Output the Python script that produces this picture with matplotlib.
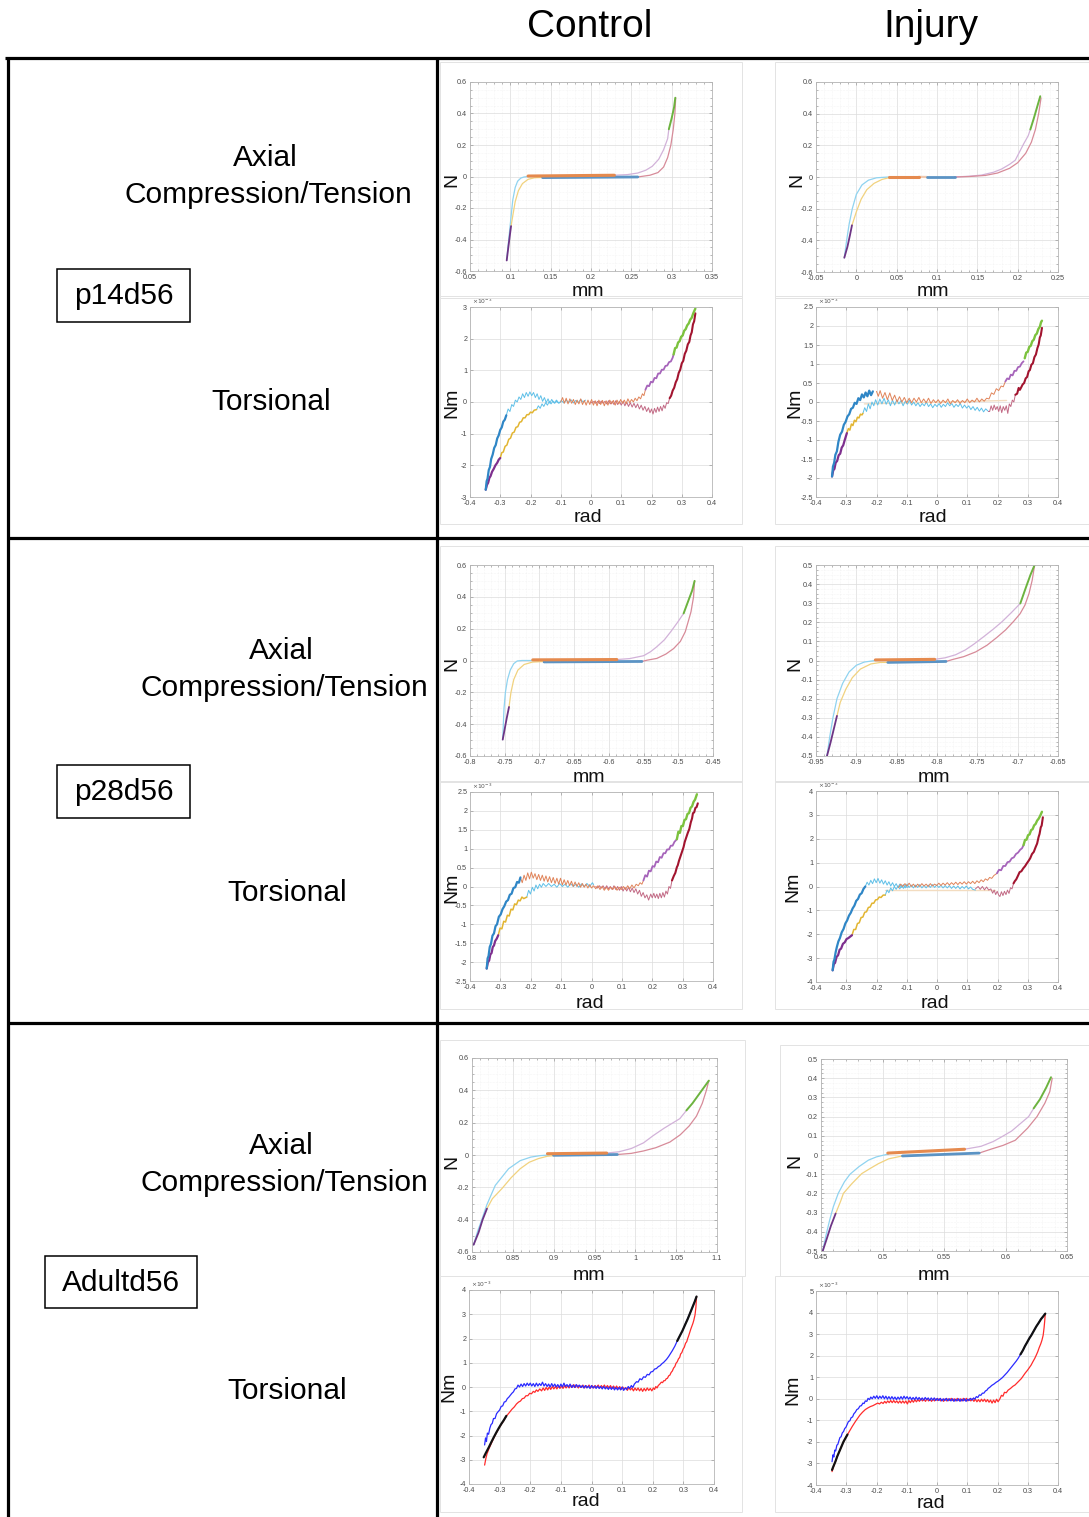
import numpy as np
import matplotlib
matplotlib.use("Agg")
import matplotlib.pyplot as plt
from matplotlib.lines import Line2D
from matplotlib.patches import Rectangle
from matplotlib.ticker import MultipleLocator, AutoMinorLocator, FuncFormatter

plt.rcParams['font.family'] = ['Liberation Sans', 'DejaVu Sans']

W, H = 1089, 1517

# ---------------- data (x, y) ----------------
# p14d56 control, axial (mm, N)
c14a_violet = [(0.0955, -0.533), (0.0975, -0.45), (0.0995, -0.37), (0.1009, -0.315)]
c14a_sky = [(0.0955, -0.533), (0.097, -0.45), (0.099, -0.35), (0.101, -0.25), (0.103, -0.15),
            (0.106, -0.07), (0.109, -0.03), (0.113, -0.01), (0.117, -0.003), (0.122, 0.0)]
c14a_yellow = [(0.1009, -0.315), (0.103, -0.25), (0.106, -0.16), (0.110, -0.09), (0.115, -0.045),
               (0.122, -0.018), (0.130, -0.008), (0.140, -0.006)]
c14a_orange = [(0.122, 0.003), (0.229, 0.008)]
c14a_blue = [(0.140, -0.007), (0.258, -0.003)]
c14a_lilac = [(0.229, 0.008), (0.245, 0.012), (0.258, 0.022), (0.268, 0.04), (0.276, 0.065),
              (0.284, 0.11), (0.290, 0.17), (0.295, 0.24), (0.2965, 0.3)]
c14a_green = [(0.2965, 0.3), (0.300, 0.37), (0.303, 0.44), (0.3045, 0.5)]
c14a_rose = [(0.305, 0.5), (0.304, 0.4), (0.302, 0.3), (0.299, 0.2), (0.295, 0.12), (0.290, 0.06),
             (0.283, 0.025), (0.273, 0.008), (0.262, 0.0), (0.258, -0.003)]

# p14d56 injury, axial
i14a_violet = [(-0.0149, -0.51), (-0.011, -0.44), (-0.008, -0.37), (-0.0054, -0.305)]
i14a_sky = [(-0.0149, -0.51), (-0.012, -0.4), (-0.009, -0.3), (-0.005, -0.2), (0.0, -0.11),
            (0.007, -0.05), (0.015, -0.02), (0.025, -0.005), (0.04, 0.0)]
i14a_yellow = [(-0.0054, -0.305), (0.0, -0.22), (0.006, -0.14), (0.013, -0.08), (0.022, -0.04),
               (0.032, -0.015), (0.042, -0.003)]
i14a_orange = [(0.041, 0.002), (0.0773, 0.002)]
i14a_tan = [(0.0773, 0.001), (0.0876, 0.0)]
i14a_blue = [(0.0876, 0.0), (0.122, 0.0)]
i14a_lilac = [(0.122, 0.0), (0.14, 0.005), (0.155, 0.012), (0.17, 0.03), (0.18, 0.05), (0.19, 0.08),
              (0.197, 0.106), (0.2075, 0.21), (0.213, 0.26), (0.2157, 0.3)]
i14a_green = [(0.2157, 0.3), (0.220, 0.37), (0.224, 0.44), (0.228, 0.51)]
i14a_rose = [(0.229, 0.5), (0.226, 0.4), (0.222, 0.3), (0.217, 0.22), (0.210, 0.15), (0.200, 0.09),
             (0.190, 0.055), (0.175, 0.025), (0.160, 0.01), (0.140, 0.003), (0.122, 0.0)]

# p28d56 control, axial
c28a_violet = [(-0.7529, -0.497), (-0.750, -0.43), (-0.747, -0.36), (-0.7438, -0.292)]
c28a_sky = [(-0.7529, -0.497), (-0.752, -0.4), (-0.751, -0.3), (-0.749, -0.2), (-0.746, -0.12),
            (-0.742, -0.06), (-0.737, -0.02), (-0.732, -0.003), (-0.725, 0.0), (-0.709, 0.0)]
c28a_yellow = [(-0.7438, -0.292), (-0.741, -0.2), (-0.737, -0.12), (-0.731, -0.06), (-0.722, -0.025),
               (-0.710, -0.01), (-0.693, -0.006)]
c28a_orange = [(-0.7096, 0.004), (-0.5885, 0.006)]
c28a_blue = [(-0.6933, -0.009), (-0.5524, -0.006)]
c28a_lilac = [(-0.5885, 0.006), (-0.57, 0.012), (-0.55, 0.03), (-0.54, 0.055), (-0.531, 0.086),
              (-0.52, 0.13), (-0.511, 0.18), (-0.501, 0.24), (-0.4923, 0.296)]
c28a_green = [(-0.4923, 0.296), (-0.486, 0.37), (-0.480, 0.44), (-0.4765, 0.5)]
c28a_rose = [(-0.4765, 0.5), (-0.478, 0.4), (-0.4817, 0.306), (-0.486, 0.24), (-0.490, 0.18),
             (-0.497, 0.12), (-0.5067, 0.075), (-0.518, 0.04), (-0.531, 0.013), (-0.545, 0.002),
             (-0.5524, -0.006)]

# p28d56 injury, axial
i28a_violet = [(-0.9364, -0.5), (-0.932, -0.43), (-0.928, -0.36), (-0.924, -0.29)]
i28a_sky = [(-0.9364, -0.5), (-0.933, -0.4), (-0.929, -0.3), (-0.924, -0.2), (-0.917, -0.12),
            (-0.909, -0.06), (-0.900, -0.025), (-0.890, -0.008), (-0.8764, 0.0)]
i28a_yellow = [(-0.924, -0.29), (-0.920, -0.22), (-0.913, -0.15), (-0.905, -0.09), (-0.895, -0.045),
               (-0.882, -0.018), (-0.870, -0.01), (-0.861, -0.01)]
i28a_orange = [(-0.8764, 0.003), (-0.8029, 0.006)]
i28a_blue = [(-0.861, -0.01), (-0.7888, -0.005)]
i28a_lilac = [(-0.8029, 0.006), (-0.79, 0.014), (-0.777, 0.03), (-0.765, 0.055), (-0.7545, 0.085),
              (-0.742, 0.125), (-0.730, 0.165), (-0.7194, 0.203), (-0.708, 0.25), (-0.6967, 0.299)]
i28a_green = [(-0.6967, 0.299), (-0.690, 0.38), (-0.684, 0.45), (-0.679, 0.5)]
i28a_rose = [(-0.679, 0.5), (-0.682, 0.42), (-0.686, 0.35), (-0.691, 0.29), (-0.697, 0.245),
             (-0.705, 0.205), (-0.715, 0.16), (-0.726, 0.12), (-0.738, 0.08), (-0.752, 0.045),
             (-0.767, 0.02), (-0.780, 0.006), (-0.7888, -0.005)]

# Adultd56 control, axial
cAa_violet = [(0.802, -0.555), (0.808, -0.48), (0.813, -0.40), (0.8183, -0.332)]
cAa_sky = [(0.802, -0.555), (0.807, -0.47), (0.812, -0.4), (0.818, -0.31), (0.8285, -0.188),
           (0.8448, -0.085), (0.859, -0.035), (0.872, -0.013), (0.883, -0.004), (0.895, 0.0)]
cAa_yellow = [(0.8183, -0.332), (0.825, -0.27), (0.8366, -0.208), (0.848, -0.14), (0.859, -0.085),
              (0.870, -0.045), (0.8814, -0.022), (0.892, -0.008), (0.8998, -0.004)]
cAa_orange = [(0.8924, 0.008), (0.9649, 0.012)]
cAa_blue = [(0.8998, -0.002), (0.978, 0.003)]
cAa_lilac = [(0.9649, 0.012), (0.98, 0.02), (0.995, 0.04), (1.01, 0.075), (1.0219, 0.12),
             (1.035, 0.165), (1.0545, 0.225), (1.0626, 0.276)]
cAa_green = [(1.0626, 0.276), (1.070, 0.32), (1.080, 0.39), (1.090, 0.46)]
cAa_rose = [(1.090, 0.46), (1.087, 0.4), (1.082, 0.32), (1.0748, 0.24), (1.066, 0.18), (1.055, 0.125),
            (1.0423, 0.08), (1.025, 0.045), (1.01, 0.025), (0.995, 0.01), (0.978, 0.003)]

# Adultd56 injury, axial
iAa_violet = [(0.4514, -0.5), (0.455, -0.43), (0.458, -0.37), (0.4619, -0.305)]
iAa_sky = [(0.4514, -0.5), (0.454, -0.42), (0.457, -0.34), (0.460, -0.27), (0.464, -0.2),
           (0.469, -0.14), (0.4736, -0.1), (0.481, -0.06), (0.4885, -0.027), (0.495, -0.01),
           (0.5, -0.002), (0.505, 0.005)]
iAa_yellow = [(0.4619, -0.305), (0.466, -0.24), (0.4682, -0.2), (0.475, -0.15), (0.4831, -0.097),
              (0.490, -0.07), (0.4967, -0.045), (0.505, -0.02), (0.516, -0.005)]
iAa_orange = [(0.5043, 0.01), (0.5667, 0.03)]
iAa_blue = [(0.5162, -0.005), (0.5786, 0.01)]
iAa_lilac = [(0.5667, 0.03), (0.58, 0.045), (0.59, 0.07), (0.597, 0.095), (0.605, 0.125),
             (0.6188, 0.2), (0.6229, 0.243)]
iAa_green = [(0.6229, 0.243), (0.628, 0.29), (0.633, 0.35), (0.637, 0.405)]
iAa_rose = [(0.638, 0.4), (0.636, 0.33), (0.632, 0.27), (0.6256, 0.2), (0.618, 0.14), (0.608, 0.077),
            (0.598, 0.05), (0.588, 0.03), (0.5786, 0.01)]

# p14d56 control, torsional (rad, Nm x 1e-3)
c14t_violet = [(-0.348, -2.77), (-0.344, -2.62), (-0.340, -2.55), (-0.336, -2.40), (-0.332, -2.34),
               (-0.327, -2.20), (-0.322, -2.12), (-0.316, -2.00), (-0.310, -1.92), (-0.305, -1.82),
               (-0.300, -1.77)]
c14t_yellow = [(-0.300, -1.77), (-0.295, -1.60), (-0.290, -1.58), (-0.284, -1.40), (-0.278, -1.36),
               (-0.272, -1.18), (-0.266, -1.14), (-0.260, -0.98), (-0.254, -0.95), (-0.248, -0.80),
               (-0.242, -0.78), (-0.236, -0.64), (-0.230, -0.62), (-0.224, -0.50), (-0.218, -0.50),
               (-0.212, -0.40), (-0.206, -0.40), (-0.200, -0.32), (-0.194, -0.34), (-0.188, -0.26),
               (-0.180, -0.24)]
c14t_sky2 = [(-0.180, -0.24), (-0.174, -0.12), (-0.168, -0.20), (-0.162, -0.06), (-0.156, -0.14),
             (-0.150, -0.02), (-0.144, -0.10), (-0.138, 0.02), (-0.132, -0.06), (-0.126, 0.03),
             (-0.120, -0.04), (-0.114, 0.02), (-0.108, -0.03), (-0.100, 0.0)]
c14t_blue = [(-0.348, -2.77), (-0.345, -2.50), (-0.342, -2.42), (-0.338, -2.15), (-0.334, -2.05),
             (-0.330, -1.80), (-0.325, -1.66), (-0.320, -1.45), (-0.315, -1.36), (-0.310, -1.15),
             (-0.305, -1.05), (-0.300, -0.88), (-0.295, -0.80), (-0.290, -0.62), (-0.285, -0.56),
             (-0.280, -0.42)]
c14t_sky1 = [(-0.280, -0.42), (-0.274, -0.22), (-0.268, -0.30), (-0.262, -0.08), (-0.256, -0.14),
             (-0.250, 0.06), (-0.244, 0.0), (-0.238, 0.16), (-0.232, 0.08), (-0.226, 0.26),
             (-0.220, 0.14), (-0.214, 0.30), (-0.208, 0.18), (-0.202, 0.32), (-0.196, 0.20),
             (-0.190, 0.30), (-0.184, 0.14), (-0.178, 0.26), (-0.172, 0.08), (-0.166, 0.20),
             (-0.160, 0.02), (-0.154, 0.14), (-0.148, -0.02), (-0.142, 0.10), (-0.136, -0.04),
             (-0.130, 0.08), (-0.122, -0.03), (-0.114, 0.06), (-0.106, -0.04), (-0.098, 0.05),
             (-0.090, -0.03), (-0.082, 0.06), (-0.074, -0.02), (-0.066, 0.07), (-0.058, -0.03),
             (-0.050, 0.05), (-0.042, -0.02), (-0.034, 0.08), (-0.026, 0.0), (-0.018, 0.06)]
c14t_orange = [(-0.100, 0.0), (-0.094, 0.14), (-0.088, -0.04), (-0.082, 0.12), (-0.076, -0.06),
               (-0.070, 0.10), (-0.064, -0.04), (-0.058, 0.08), (-0.052, -0.08), (-0.046, 0.06),
               (-0.040, -0.06), (-0.034, 0.10), (-0.028, -0.08), (-0.022, 0.05), (-0.016, -0.10),
               (-0.010, 0.06), (-0.004, -0.08), (0.002, 0.08), (0.008, -0.10), (0.014, 0.04),
               (0.020, -0.12), (0.026, 0.06), (0.032, -0.08), (0.038, 0.05), (0.044, -0.12),
               (0.050, 0.04), (0.056, -0.10), (0.062, 0.06), (0.068, -0.06), (0.074, 0.05),
               (0.080, -0.10), (0.086, 0.06), (0.092, -0.06), (0.098, 0.08), (0.104, -0.04),
               (0.110, 0.06), (0.116, -0.06), (0.122, 0.10), (0.128, -0.02), (0.134, 0.08),
               (0.140, 0.0), (0.146, 0.12), (0.152, 0.04), (0.158, 0.16), (0.164, 0.10),
               (0.170, 0.26), (0.175, 0.20), (0.180, 0.39)]
c14t_lilac = [(0.180, 0.39), (0.186, 0.52), (0.192, 0.50), (0.198, 0.64), (0.204, 0.62), (0.210, 0.76),
              (0.216, 0.75), (0.222, 0.90), (0.228, 0.90), (0.234, 1.02), (0.240, 1.02), (0.246, 1.14),
              (0.252, 1.15), (0.258, 1.26), (0.264, 1.28), (0.270, 1.40), (0.273, 1.50)]
c14t_green = [(0.273, 1.50), (0.278, 1.70), (0.283, 1.72), (0.288, 1.88), (0.293, 1.92), (0.298, 2.06),
              (0.303, 2.10), (0.308, 2.25), (0.313, 2.30), (0.318, 2.42), (0.323, 2.48), (0.328, 2.60),
              (0.333, 2.66), (0.338, 2.80), (0.345, 2.95)]
c14t_red = [(0.345, 2.80), (0.341, 2.55), (0.337, 2.45), (0.333, 2.20), (0.329, 2.10), (0.325, 1.90),
            (0.320, 1.82), (0.315, 1.62), (0.310, 1.52), (0.305, 1.30), (0.300, 1.22), (0.295, 1.02),
            (0.290, 0.92), (0.285, 0.72), (0.280, 0.62), (0.275, 0.45), (0.270, 0.36), (0.265, 0.20),
            (0.260, 0.12)]
c14t_rose = [(0.260, 0.12), (0.255, -0.05), (0.250, -0.02), (0.245, -0.20), (0.240, -0.10),
             (0.235, -0.28), (0.230, -0.14), (0.225, -0.30), (0.220, -0.16), (0.215, -0.33),
             (0.210, -0.20), (0.205, -0.38), (0.200, -0.22), (0.195, -0.34), (0.190, -0.18),
             (0.184, -0.30), (0.178, -0.14), (0.172, -0.26), (0.166, -0.10), (0.160, -0.22),
             (0.154, -0.06), (0.148, -0.18), (0.142, -0.04), (0.136, -0.16), (0.130, -0.02),
             (0.124, -0.14), (0.118, 0.0), (0.112, -0.12), (0.106, 0.02), (0.100, -0.10),
             (0.094, 0.02), (0.088, -0.08), (0.082, 0.04), (0.076, -0.08), (0.070, 0.02),
             (0.064, -0.06), (0.058, 0.04), (0.052, -0.06), (0.046, 0.02), (0.040, -0.04),
             (0.034, 0.03), (0.028, -0.05), (0.022, 0.02), (0.016, -0.04), (0.010, 0.02),
             (0.004, -0.03), (-0.002, 0.0)]

# p14d56 injury, torsional
i14t_violet = [(-0.347, -1.96), (-0.343, -1.80), (-0.339, -1.76), (-0.335, -1.60), (-0.330, -1.55),
               (-0.325, -1.40), (-0.320, -1.36), (-0.315, -1.20), (-0.310, -1.14), (-0.305, -1.00),
               (-0.298, -0.82)]
i14t_yellow = [(-0.298, -0.82), (-0.293, -0.70), (-0.288, -0.74), (-0.283, -0.58), (-0.278, -0.62),
               (-0.273, -0.48), (-0.268, -0.52), (-0.263, -0.40), (-0.258, -0.42), (-0.253, -0.32),
               (-0.248, -0.34), (-0.245, -0.30)]
i14t_sky = [(-0.245, -0.30), (-0.239, -0.15), (-0.233, -0.25), (-0.227, -0.05), (-0.221, -0.18),
            (-0.215, 0.0), (-0.209, -0.10), (-0.203, 0.06), (-0.196, -0.08), (-0.189, 0.08),
            (-0.182, -0.05), (-0.175, 0.10), (-0.168, -0.06), (-0.161, 0.06), (-0.154, -0.10),
            (-0.147, 0.05), (-0.140, -0.08), (-0.133, 0.06), (-0.126, -0.05), (-0.119, 0.04),
            (-0.112, -0.10), (-0.105, 0.02), (-0.098, -0.06), (-0.091, 0.05), (-0.084, -0.08),
            (-0.077, 0.0), (-0.070, -0.10), (-0.063, -0.02), (-0.056, -0.12), (-0.049, -0.04),
            (-0.042, -0.10), (-0.035, 0.0), (-0.028, -0.12), (-0.021, -0.05), (-0.014, -0.15),
            (-0.007, -0.06), (0.000, -0.12), (0.007, -0.04), (0.014, -0.14), (0.021, -0.06),
            (0.028, -0.12), (0.035, -0.02), (0.042, -0.10), (0.049, -0.04), (0.056, -0.14),
            (0.063, -0.06), (0.070, -0.12), (0.077, -0.04), (0.084, -0.16), (0.091, -0.08),
            (0.098, -0.16), (0.105, -0.10), (0.112, -0.20), (0.119, -0.12), (0.126, -0.22),
            (0.133, -0.14), (0.140, -0.24), (0.147, -0.16), (0.154, -0.26), (0.161, -0.18),
            (0.170, -0.25)]
i14t_tan = [(-0.240, -0.05), (0.230, 0.04)]
i14t_blue = [(-0.347, -1.96), (-0.344, -1.70), (-0.340, -1.60), (-0.336, -1.39), (-0.331, -1.30),
             (-0.326, -1.05), (-0.320, -0.86), (-0.314, -0.78), (-0.308, -0.60), (-0.302, -0.52),
             (-0.296, -0.38), (-0.290, -0.32), (-0.284, -0.18), (-0.278, -0.15), (-0.272, -0.02),
             (-0.266, -0.05), (-0.260, 0.10), (-0.254, 0.05), (-0.248, 0.20), (-0.242, 0.12),
             (-0.236, 0.25), (-0.230, 0.15), (-0.224, 0.30), (-0.218, 0.18), (-0.212, 0.28)]
i14t_orange = [(-0.200, 0.28), (-0.194, 0.15), (-0.188, 0.30), (-0.180, 0.10), (-0.172, 0.25),
               (-0.164, 0.06), (-0.156, 0.24), (-0.148, 0.04), (-0.140, 0.18), (-0.132, 0.0),
               (-0.124, 0.14), (-0.116, 0.0), (-0.108, 0.12), (-0.100, -0.02), (-0.092, 0.10),
               (-0.084, -0.02), (-0.076, 0.10), (-0.068, 0.0), (-0.060, 0.12), (-0.052, -0.02),
               (-0.044, 0.08), (-0.036, -0.02), (-0.028, 0.10), (-0.020, -0.04), (-0.012, 0.06),
               (-0.004, -0.02), (0.004, 0.06), (0.012, -0.04), (0.020, 0.05), (0.028, -0.02),
               (0.036, 0.08), (0.044, -0.05), (0.052, 0.04), (0.060, -0.02), (0.068, 0.06),
               (0.076, -0.04), (0.084, 0.04), (0.092, -0.02), (0.100, 0.08), (0.108, -0.02),
               (0.116, 0.05), (0.124, 0.0), (0.132, 0.10), (0.140, 0.0), (0.148, 0.08),
               (0.156, 0.02), (0.164, 0.10), (0.172, 0.08), (0.180, 0.24), (0.188, 0.20),
               (0.196, 0.35), (0.204, 0.30), (0.212, 0.42), (0.219, 0.40), (0.226, 0.54)]
i14t_lilac = [(0.226, 0.54), (0.232, 0.62), (0.238, 0.60), (0.244, 0.72), (0.250, 0.70), (0.256, 0.82),
              (0.262, 0.82), (0.268, 0.92), (0.274, 0.93), (0.280, 1.02), (0.286, 1.07)]
i14t_green = [(0.290, 1.15), (0.295, 1.30), (0.300, 1.32), (0.305, 1.45), (0.310, 1.48), (0.315, 1.60),
              (0.320, 1.64), (0.325, 1.76), (0.330, 1.80), (0.335, 1.92), (0.340, 1.98), (0.344, 2.10),
              (0.347, 2.14)]
i14t_red = [(0.347, 1.95), (0.343, 1.75), (0.340, 1.70), (0.336, 1.51), (0.332, 1.42), (0.327, 1.25),
            (0.322, 1.18), (0.317, 1.02), (0.312, 0.98), (0.307, 0.84), (0.303, 0.81), (0.298, 0.66),
            (0.293, 0.62), (0.288, 0.50), (0.283, 0.46), (0.278, 0.38), (0.274, 0.32), (0.270, 0.37),
            (0.265, 0.22), (0.259, 0.19)]
i14t_rose = [(0.259, 0.19), (0.254, 0.0), (0.249, 0.05), (0.244, -0.12), (0.239, -0.05), (0.234, -0.30),
             (0.229, -0.10), (0.224, -0.22), (0.219, -0.12), (0.214, -0.28), (0.209, -0.10),
             (0.204, -0.25), (0.199, -0.12), (0.194, -0.20), (0.189, -0.08), (0.184, -0.22),
             (0.179, -0.10), (0.174, -0.25), (0.170, -0.25)]

# p28d56 control, torsional
c28t_violet = [(-0.345, -2.17), (-0.341, -2.00), (-0.337, -1.96), (-0.333, -1.80), (-0.329, -1.76),
               (-0.325, -1.60), (-0.321, -1.56), (-0.317, -1.44), (-0.312, -1.38), (-0.307, -1.29)]
c28t_yellow = [(-0.307, -1.29), (-0.301, -1.10), (-0.295, -1.12), (-0.289, -0.92), (-0.283, -0.94),
               (-0.277, -0.76), (-0.271, -0.78), (-0.265, -0.60), (-0.259, -0.62), (-0.253, -0.46),
               (-0.247, -0.48), (-0.241, -0.36), (-0.235, -0.38), (-0.229, -0.28), (-0.223, -0.32),
               (-0.213, -0.28)]
c28t_sky2 = [(-0.213, -0.28), (-0.207, -0.10), (-0.201, -0.20), (-0.195, -0.02), (-0.189, -0.12),
             (-0.183, 0.04), (-0.177, -0.06), (-0.171, 0.06), (-0.165, -0.02), (-0.159, 0.08),
             (-0.150, 0.0), (-0.141, 0.08), (-0.132, 0.0), (-0.123, 0.06), (-0.114, -0.02),
             (-0.105, 0.08), (-0.096, 0.0), (-0.087, 0.06), (-0.078, -0.02), (-0.069, 0.08),
             (-0.060, 0.0), (-0.051, 0.06), (-0.042, -0.02), (-0.033, 0.07), (-0.024, 0.0),
             (-0.015, 0.08), (-0.006, 0.0), (0.003, 0.10), (0.007, 0.05)]
c28t_blue = [(-0.345, -2.17), (-0.342, -1.90), (-0.339, -1.84), (-0.335, -1.60), (-0.331, -1.52),
             (-0.326, -1.30), (-0.321, -1.24), (-0.316, -1.05), (-0.311, -1.00), (-0.305, -0.80),
             (-0.299, -0.74), (-0.293, -0.60), (-0.287, -0.52), (-0.281, -0.40), (-0.275, -0.36),
             (-0.269, -0.22), (-0.263, -0.19), (-0.257, -0.04), (-0.251, -0.02), (-0.245, 0.12),
             (-0.239, 0.10), (-0.234, 0.24)]
c28t_orange = [(-0.234, 0.24), (-0.228, 0.10), (-0.222, 0.30), (-0.216, 0.16), (-0.210, 0.36),
               (-0.204, 0.20), (-0.198, 0.38), (-0.192, 0.22), (-0.186, 0.34), (-0.180, 0.18),
               (-0.174, 0.32), (-0.168, 0.16), (-0.162, 0.30), (-0.156, 0.14), (-0.150, 0.28),
               (-0.144, 0.12), (-0.138, 0.26), (-0.132, 0.10), (-0.126, 0.24), (-0.120, 0.08),
               (-0.114, 0.22), (-0.108, 0.06), (-0.102, 0.22), (-0.096, 0.04), (-0.090, 0.18),
               (-0.084, 0.04), (-0.078, 0.16), (-0.072, 0.02), (-0.066, 0.14), (-0.060, 0.0),
               (-0.054, 0.12), (-0.048, 0.0), (-0.042, 0.10), (-0.036, -0.02), (-0.030, 0.08),
               (-0.024, -0.02), (-0.018, 0.06), (-0.012, -0.04), (-0.006, 0.05), (0.000, -0.04),
               (0.007, 0.02), (0.014, -0.06), (0.021, 0.02), (0.028, -0.08), (0.035, 0.0),
               (0.042, -0.10), (0.049, -0.02), (0.056, -0.10), (0.063, -0.02), (0.070, -0.08),
               (0.077, 0.0), (0.084, -0.10), (0.091, -0.02), (0.098, -0.08), (0.105, 0.0),
               (0.112, -0.08), (0.119, 0.02), (0.126, -0.06), (0.133, 0.04), (0.140, -0.04),
               (0.147, 0.06), (0.154, 0.02), (0.160, 0.10), (0.166, 0.06), (0.171, 0.16)]
c28t_lilac = [(0.171, 0.16), (0.177, 0.30), (0.183, 0.26), (0.189, 0.42), (0.195, 0.40), (0.201, 0.54),
              (0.207, 0.52), (0.213, 0.66), (0.219, 0.64), (0.225, 0.78), (0.231, 0.76), (0.237, 0.88),
              (0.243, 0.88), (0.249, 0.98), (0.255, 0.98), (0.261, 1.08), (0.267, 1.08), (0.273, 1.18),
              (0.281, 1.25)]
c28t_green = [(0.281, 1.25), (0.286, 1.45), (0.291, 1.42), (0.296, 1.60), (0.301, 1.60), (0.306, 1.76),
              (0.311, 1.78), (0.316, 1.92), (0.321, 1.94), (0.326, 2.08), (0.331, 2.12), (0.336, 2.24),
              (0.341, 2.30), (0.347, 2.44)]
c28t_red = [(0.350, 2.20), (0.346, 2.10), (0.342, 2.08), (0.338, 1.96), (0.334, 1.94), (0.331, 1.80),
            (0.327, 1.70), (0.322, 1.52), (0.317, 1.42), (0.312, 1.30), (0.307, 1.18), (0.303, 1.04),
            (0.298, 0.92), (0.293, 0.80), (0.288, 0.68), (0.284, 0.56), (0.281, 0.51), (0.276, 0.36),
            (0.271, 0.28), (0.265, 0.16)]
c28t_rose = [(0.265, 0.16), (0.260, -0.05), (0.255, 0.0), (0.250, -0.20), (0.245, -0.12),
             (0.240, -0.28), (0.235, -0.16), (0.230, -0.30), (0.225, -0.18), (0.220, -0.32),
             (0.215, -0.20), (0.210, -0.30), (0.205, -0.18), (0.200, -0.30), (0.195, -0.20),
             (0.188, -0.36), (0.182, -0.22), (0.176, -0.30), (0.170, -0.16), (0.164, -0.26),
             (0.158, -0.10), (0.152, -0.20), (0.146, -0.06), (0.140, -0.16), (0.134, -0.04),
             (0.128, -0.14), (0.122, -0.02), (0.116, -0.12), (0.110, -0.02), (0.104, -0.12),
             (0.098, 0.0), (0.092, -0.10), (0.086, 0.0), (0.080, -0.08), (0.074, 0.02),
             (0.068, -0.08), (0.062, 0.0), (0.056, -0.06), (0.050, 0.02), (0.044, -0.06),
             (0.038, 0.02), (0.032, -0.04), (0.026, 0.02), (0.020, -0.04), (0.014, 0.0)]

# p28d56 injury, torsional
i28t_violet = [(-0.345, -3.51), (-0.341, -3.25), (-0.337, -3.20), (-0.332, -2.95), (-0.327, -2.88),
               (-0.322, -2.65), (-0.317, -2.60), (-0.311, -2.40), (-0.305, -2.34), (-0.299, -2.20),
               (-0.293, -2.16), (-0.281, -2.04)]
i28t_yellow = [(-0.281, -2.04), (-0.275, -1.80), (-0.269, -1.80), (-0.263, -1.55), (-0.257, -1.52),
               (-0.251, -1.30), (-0.245, -1.28), (-0.239, -1.08), (-0.233, -1.06), (-0.227, -0.88),
               (-0.221, -0.86), (-0.215, -0.70), (-0.209, -0.70), (-0.203, -0.56), (-0.197, -0.55),
               (-0.191, -0.44), (-0.185, -0.46), (-0.178, -0.36), (-0.171, -0.36)]
i28t_sky2 = [(-0.171, -0.36), (-0.165, -0.15), (-0.159, -0.26), (-0.153, -0.06), (-0.147, -0.18),
             (-0.141, 0.0), (-0.135, -0.12), (-0.129, 0.02), (-0.123, -0.10), (-0.117, 0.04),
             (-0.111, -0.08), (-0.105, 0.05), (-0.099, -0.04), (-0.094, 0.0)]
i28t_blue = [(-0.345, -3.51), (-0.342, -3.15), (-0.339, -3.05), (-0.335, -2.75), (-0.331, -2.53),
             (-0.326, -2.30), (-0.321, -2.16), (-0.315, -1.92), (-0.309, -1.78), (-0.303, -1.55),
             (-0.297, -1.42), (-0.291, -1.22), (-0.285, -1.10), (-0.279, -0.92), (-0.273, -0.80),
             (-0.267, -0.60), (-0.261, -0.52), (-0.255, -0.34), (-0.249, -0.28), (-0.243, -0.10),
             (-0.237, 0.0)]
i28t_sky1 = [(-0.237, 0.0), (-0.231, 0.18), (-0.225, 0.06), (-0.219, 0.26), (-0.213, 0.12),
             (-0.207, 0.32), (-0.201, 0.16), (-0.195, 0.34), (-0.189, 0.14), (-0.183, 0.28),
             (-0.177, 0.10), (-0.171, 0.24), (-0.165, 0.06), (-0.159, 0.20), (-0.153, 0.02),
             (-0.147, 0.16), (-0.141, 0.0), (-0.135, 0.12), (-0.129, -0.04), (-0.123, 0.10),
             (-0.117, -0.04), (-0.111, 0.08), (-0.105, -0.06), (-0.099, 0.10), (-0.092, -0.04),
             (-0.085, 0.06), (-0.078, -0.06), (-0.071, 0.06), (-0.064, -0.04), (-0.057, 0.08),
             (-0.050, -0.06), (-0.043, 0.05), (-0.036, -0.06), (-0.029, 0.06), (-0.022, -0.04),
             (-0.015, 0.08), (-0.008, -0.04), (-0.001, 0.06), (0.006, -0.04), (0.013, 0.05),
             (0.020, -0.06), (0.027, 0.04), (0.034, -0.06), (0.041, 0.04), (0.048, -0.08),
             (0.055, 0.02), (0.062, -0.08), (0.069, 0.02), (0.076, -0.10), (0.083, 0.0),
             (0.090, -0.08), (0.097, 0.02), (0.104, -0.10), (0.111, -0.02), (0.118, -0.12),
             (0.127, -0.15)]
i28t_tan = [(-0.171, -0.15), (0.193, -0.15)]
i28t_orange = [(-0.127, -0.05), (-0.120, 0.10), (-0.113, 0.0), (-0.106, 0.12), (-0.099, 0.02),
               (-0.092, 0.14), (-0.085, 0.0), (-0.078, 0.10), (-0.071, -0.02), (-0.064, 0.10),
               (-0.057, 0.0), (-0.050, 0.12), (-0.043, 0.02), (-0.036, 0.10), (-0.029, 0.0),
               (-0.022, 0.12), (-0.015, 0.02), (-0.008, 0.10), (-0.001, 0.04), (0.006, 0.14),
               (0.013, 0.04), (0.020, 0.14), (0.027, 0.06), (0.034, 0.16), (0.041, 0.06),
               (0.048, 0.16), (0.055, 0.08), (0.062, 0.18), (0.069, 0.08), (0.076, 0.18),
               (0.083, 0.10), (0.090, 0.20), (0.097, 0.10), (0.104, 0.20), (0.111, 0.12),
               (0.118, 0.22), (0.125, 0.12), (0.132, 0.24), (0.139, 0.16), (0.146, 0.28),
               (0.153, 0.20), (0.160, 0.32), (0.167, 0.26), (0.174, 0.38), (0.181, 0.34),
               (0.188, 0.46), (0.198, 0.55)]
i28t_lilac = [(0.198, 0.55), (0.205, 0.70), (0.212, 0.68), (0.219, 0.86), (0.226, 0.86), (0.233, 1.02),
              (0.240, 1.04), (0.247, 1.18), (0.254, 1.22), (0.261, 1.36), (0.268, 1.42), (0.275, 1.54),
              (0.281, 1.60), (0.286, 1.73)]
i28t_green = [(0.286, 1.73), (0.291, 1.95), (0.296, 1.96), (0.301, 2.15), (0.306, 2.18), (0.311, 2.36),
              (0.316, 2.40), (0.321, 2.56), (0.326, 2.62), (0.331, 2.76), (0.336, 2.84), (0.341, 2.96),
              (0.347, 3.13)]
i28t_red = [(0.350, 2.90), (0.346, 2.55), (0.343, 2.48), (0.339, 2.20), (0.336, 2.08), (0.331, 1.80),
            (0.326, 1.65), (0.320, 1.45), (0.314, 1.36), (0.308, 1.18), (0.302, 1.06), (0.297, 0.97),
            (0.291, 0.85), (0.285, 0.76), (0.279, 0.64), (0.273, 0.60), (0.268, 0.46), (0.262, 0.30),
            (0.257, 0.22), (0.253, 0.13)]
i28t_rose = [(0.253, 0.13), (0.248, -0.10), (0.243, -0.05), (0.238, -0.29), (0.233, -0.15),
             (0.228, -0.34), (0.223, -0.20), (0.218, -0.38), (0.213, -0.22), (0.208, -0.42),
             (0.204, -0.36), (0.199, -0.20), (0.194, -0.34), (0.189, -0.15), (0.184, -0.28),
             (0.178, -0.10), (0.171, -0.15), (0.164, -0.02), (0.157, -0.14), (0.150, 0.0),
             (0.143, -0.12), (0.136, 0.0), (0.127, -0.10)]

# Adultd56 control, torsional
cAt_blue = [(-0.349, -2.39), (-0.346, -2.10), (-0.343, -2.25), (-0.340, -1.90), (-0.336, -1.95),
            (-0.332, -1.70), (-0.328, -1.55), (-0.324, -1.50), (-0.320, -1.30), (-0.315, -1.30),
            (-0.310, -1.10), (-0.305, -1.02), (-0.300, -0.95), (-0.295, -0.80), (-0.290, -0.78),
            (-0.285, -0.62), (-0.280, -0.60), (-0.275, -0.48), (-0.270, -0.42), (-0.265, -0.34),
            (-0.260, -0.26), (-0.255, -0.20), (-0.250, -0.08), (-0.245, -0.06), (-0.240, 0.08),
            (-0.235, 0.0), (-0.230, 0.12), (-0.225, 0.02), (-0.220, 0.14), (-0.215, 0.04),
            (-0.210, 0.16), (-0.205, 0.06), (-0.200, 0.16), (-0.195, 0.04), (-0.190, 0.14),
            (-0.185, 0.02), (-0.180, 0.16), (-0.175, 0.04), (-0.170, 0.14), (-0.165, 0.06),
            (-0.160, 0.20), (-0.155, 0.04), (-0.150, 0.14), (-0.145, 0.02), (-0.140, 0.12),
            (-0.135, 0.0), (-0.130, 0.14), (-0.125, 0.02), (-0.120, 0.12), (-0.115, 0.0),
            (-0.110, 0.10), (-0.105, -0.02), (-0.100, 0.12), (-0.095, 0.0), (-0.090, 0.16),
            (-0.085, 0.02), (-0.080, 0.10), (-0.075, 0.0), (-0.070, 0.12), (-0.065, -0.02),
            (-0.060, 0.08), (-0.055, -0.02), (-0.050, 0.10), (-0.045, 0.0), (-0.040, 0.08),
            (-0.035, -0.02), (-0.030, 0.06), (-0.025, -0.04), (-0.020, 0.06), (-0.015, -0.04),
            (-0.010, 0.04), (-0.005, -0.06), (0.000, 0.06), (0.005, -0.04), (0.010, 0.04),
            (0.015, -0.06), (0.020, 0.04), (0.025, -0.06), (0.030, 0.02), (0.035, -0.08),
            (0.040, 0.02), (0.045, -0.08), (0.050, 0.0), (0.055, -0.10), (0.060, 0.0),
            (0.065, -0.10), (0.070, 0.0), (0.075, -0.12), (0.080, -0.02), (0.085, -0.12),
            (0.090, -0.02), (0.095, -0.12), (0.100, 0.0), (0.105, -0.14), (0.110, -0.04),
            (0.115, -0.10), (0.120, 0.02), (0.125, -0.06), (0.130, 0.06), (0.135, -0.02),
            (0.140, 0.12), (0.147, 0.22), (0.152, 0.20), (0.158, 0.34), (0.164, 0.30),
            (0.170, 0.42), (0.176, 0.40), (0.182, 0.52), (0.188, 0.50), (0.194, 0.62),
            (0.200, 0.64), (0.206, 0.74), (0.212, 0.76), (0.218, 0.84), (0.224, 0.88),
            (0.230, 0.96), (0.236, 1.02), (0.245, 1.14), (0.252, 1.26), (0.258, 1.38),
            (0.264, 1.50), (0.272, 1.68), (0.280, 1.90), (0.288, 2.10), (0.297, 2.32),
            (0.305, 2.55), (0.314, 2.80), (0.322, 3.05), (0.330, 3.30), (0.337, 3.52),
            (0.343, 3.73)]
cAt_red = [(0.343, 3.73), (0.341, 3.30), (0.338, 2.97), (0.334, 2.75), (0.331, 2.62), (0.327, 2.48),
           (0.324, 2.38), (0.320, 2.22), (0.317, 2.10), (0.314, 2.00), (0.311, 1.87), (0.307, 1.80),
           (0.303, 1.64), (0.299, 1.56), (0.295, 1.42), (0.291, 1.36), (0.288, 1.22), (0.284, 1.16),
           (0.280, 1.04), (0.276, 0.98), (0.272, 0.84), (0.268, 0.78), (0.264, 0.66), (0.260, 0.60),
           (0.256, 0.49), (0.252, 0.46), (0.248, 0.36), (0.244, 0.34), (0.240, 0.26), (0.236, 0.26),
           (0.232, 0.18), (0.228, 0.20), (0.223, 0.12), (0.218, 0.06), (0.214, -0.04), (0.210, 0.02),
           (0.206, -0.10), (0.202, -0.04), (0.197, -0.16), (0.192, -0.06), (0.187, -0.14),
           (0.182, -0.04), (0.177, -0.16), (0.172, -0.06), (0.167, -0.18), (0.162, -0.06),
           (0.157, -0.16), (0.152, -0.04), (0.147, -0.14), (0.142, -0.04), (0.137, -0.16),
           (0.132, -0.04), (0.127, -0.12), (0.122, -0.02), (0.117, -0.14), (0.112, -0.02),
           (0.107, -0.10), (0.102, 0.0), (0.097, -0.10), (0.092, 0.02), (0.087, -0.08),
           (0.082, 0.04), (0.077, -0.06), (0.072, 0.04), (0.067, -0.06), (0.062, 0.06),
           (0.057, -0.04), (0.052, 0.06), (0.047, -0.04), (0.042, 0.08), (0.037, -0.02),
           (0.032, 0.06), (0.027, -0.04), (0.022, 0.08), (0.017, -0.02), (0.012, 0.06),
           (0.007, -0.04), (0.002, 0.06), (-0.003, -0.04), (-0.008, 0.08), (-0.013, -0.02),
           (-0.018, 0.06), (-0.023, -0.04), (-0.028, 0.08), (-0.033, -0.02), (-0.038, 0.06),
           (-0.043, -0.04), (-0.048, 0.08), (-0.053, -0.02), (-0.058, 0.10), (-0.063, -0.02),
           (-0.068, 0.08), (-0.073, -0.04), (-0.078, 0.06), (-0.083, -0.04), (-0.088, 0.06),
           (-0.093, -0.06), (-0.098, 0.04), (-0.103, -0.06), (-0.108, 0.04), (-0.113, -0.08),
           (-0.118, 0.02), (-0.123, -0.08), (-0.128, 0.02), (-0.133, -0.10), (-0.138, 0.0),
           (-0.143, -0.12), (-0.148, -0.02), (-0.153, -0.14), (-0.158, -0.04), (-0.163, -0.16),
           (-0.169, -0.08), (-0.175, -0.18), (-0.180, -0.12), (-0.185, -0.22), (-0.190, -0.18),
           (-0.196, -0.28), (-0.202, -0.26), (-0.208, -0.36), (-0.214, -0.36), (-0.220, -0.46),
           (-0.226, -0.48), (-0.232, -0.58), (-0.238, -0.62), (-0.245, -0.70), (-0.252, -0.82),
           (-0.260, -0.92), (-0.268, -1.05), (-0.278, -1.20), (-0.287, -1.40), (-0.295, -1.55),
           (-0.303, -1.72), (-0.311, -1.90), (-0.319, -2.10), (-0.327, -2.32), (-0.335, -2.55),
           (-0.341, -2.75), (-0.345, -2.95), (-0.349, -3.22)]
cAt_black_lo = [(-0.352, -2.90), (-0.345, -2.72), (-0.335, -2.48), (-0.327, -2.27), (-0.319, -2.07),
                (-0.311, -1.88), (-0.303, -1.70), (-0.295, -1.53), (-0.287, -1.38), (-0.278, -1.19)]
cAt_black_hi = [(0.280, 1.90), (0.288, 2.10), (0.297, 2.32), (0.305, 2.55), (0.314, 2.80), (0.322, 3.05),
                (0.330, 3.30), (0.337, 3.52), (0.343, 3.73)]

# Adultd56 injury, torsional
iAt_blue = [(-0.347, -2.92), (-0.344, -2.60), (-0.341, -2.70), (-0.338, -2.38), (-0.335, -2.42),
            (-0.331, -2.15), (-0.328, -2.12), (-0.325, -1.99), (-0.321, -1.80), (-0.317, -1.76),
            (-0.313, -1.58), (-0.309, -1.52), (-0.305, -1.38), (-0.301, -1.32), (-0.298, -1.22),
            (-0.293, -1.06), (-0.288, -1.02), (-0.284, -0.88), (-0.279, -0.84), (-0.275, -0.70),
            (-0.270, -0.62), (-0.265, -0.50), (-0.260, -0.46), (-0.255, -0.34), (-0.250, -0.32),
            (-0.245, -0.20), (-0.241, -0.22), (-0.237, -0.10), (-0.232, -0.12), (-0.228, 0.02),
            (-0.223, -0.04), (-0.219, 0.08), (-0.214, 0.0), (-0.209, 0.12), (-0.204, 0.02),
            (-0.199, 0.14), (-0.194, 0.0), (-0.189, 0.12), (-0.184, 0.02), (-0.179, 0.14),
            (-0.174, 0.0), (-0.169, 0.12), (-0.164, -0.02), (-0.159, 0.10), (-0.154, -0.02),
            (-0.149, 0.10), (-0.144, -0.02), (-0.139, 0.08), (-0.134, -0.04), (-0.129, 0.08),
            (-0.124, -0.02), (-0.119, 0.10), (-0.114, -0.02), (-0.109, 0.12), (-0.104, 0.0),
            (-0.099, 0.10), (-0.094, -0.02), (-0.089, 0.08), (-0.084, -0.04), (-0.079, 0.06),
            (-0.074, -0.04), (-0.069, 0.08), (-0.064, -0.04), (-0.059, 0.06), (-0.054, -0.06),
            (-0.049, 0.04), (-0.044, -0.06), (-0.039, 0.06), (-0.034, -0.04), (-0.029, 0.04),
            (-0.024, -0.08), (-0.019, 0.04), (-0.014, -0.06), (-0.009, 0.04), (-0.004, -0.08),
            (0.001, 0.02), (0.006, -0.08), (0.011, 0.02), (0.016, -0.10), (0.021, 0.0),
            (0.026, -0.08), (0.031, 0.02), (0.036, -0.10), (0.041, 0.0), (0.046, -0.10),
            (0.051, 0.0), (0.056, -0.12), (0.061, -0.02), (0.066, -0.10), (0.071, 0.0),
            (0.076, -0.12), (0.081, -0.02), (0.086, -0.10), (0.091, 0.0), (0.096, -0.12),
            (0.101, -0.02), (0.106, -0.08), (0.111, 0.02), (0.116, -0.06), (0.121, 0.04),
            (0.125, -0.02), (0.130, 0.10), (0.135, 0.06), (0.140, 0.18), (0.145, 0.16),
            (0.150, 0.26), (0.155, 0.26), (0.160, 0.36), (0.165, 0.40), (0.169, 0.48),
            (0.175, 0.54), (0.181, 0.62), (0.188, 0.68), (0.195, 0.76), (0.202, 0.82),
            (0.209, 0.90), (0.216, 0.98), (0.224, 1.10), (0.232, 1.22), (0.240, 1.36),
            (0.248, 1.50), (0.255, 1.62), (0.262, 1.75), (0.268, 1.87), (0.276, 2.06),
            (0.284, 2.25), (0.291, 2.45), (0.298, 2.62), (0.305, 2.80), (0.312, 2.95),
            (0.320, 3.15), (0.328, 3.35), (0.336, 3.52), (0.344, 3.70), (0.351, 3.82),
            (0.358, 3.95)]
iAt_red = [(0.358, 3.95), (0.356, 3.60), (0.354, 3.30), (0.351, 2.95), (0.347, 2.72), (0.343, 2.55),
           (0.338, 2.38), (0.333, 2.18), (0.328, 2.02), (0.323, 1.87), (0.317, 1.72), (0.311, 1.56),
           (0.305, 1.44), (0.299, 1.32), (0.292, 1.20), (0.285, 1.06), (0.279, 0.94), (0.272, 0.84),
           (0.265, 0.74), (0.258, 0.64), (0.251, 0.58), (0.243, 0.48), (0.235, 0.40), (0.229, 0.28),
           (0.223, 0.30), (0.218, 0.12), (0.213, 0.16), (0.208, 0.0), (0.202, -0.14), (0.197, -0.02),
           (0.192, -0.18), (0.187, -0.06), (0.182, -0.20), (0.177, -0.06), (0.172, -0.16),
           (0.167, -0.04), (0.162, -0.14), (0.157, -0.02), (0.152, -0.12), (0.147, -0.02),
           (0.142, -0.14), (0.137, -0.04), (0.132, -0.14), (0.127, -0.02), (0.122, -0.12),
           (0.117, 0.0), (0.112, -0.10), (0.107, 0.0), (0.102, -0.10), (0.097, 0.02),
           (0.092, -0.08), (0.087, 0.02), (0.082, -0.10), (0.077, 0.0), (0.072, -0.08),
           (0.067, 0.02), (0.062, -0.10), (0.057, 0.0), (0.052, -0.08), (0.047, 0.02),
           (0.042, -0.08), (0.037, 0.0), (0.032, -0.10), (0.027, 0.0), (0.022, -0.12),
           (0.017, -0.02), (0.012, -0.10), (0.007, 0.0), (0.002, -0.08), (-0.003, 0.0),
           (-0.008, -0.10), (-0.013, -0.02), (-0.018, -0.12), (-0.023, -0.02), (-0.028, -0.10),
           (-0.033, 0.0), (-0.038, -0.12), (-0.043, -0.02), (-0.048, -0.10), (-0.053, 0.0),
           (-0.058, -0.12), (-0.063, -0.04), (-0.068, -0.14), (-0.073, -0.04), (-0.078, -0.16),
           (-0.083, -0.06), (-0.088, -0.18), (-0.093, -0.08), (-0.098, -0.24), (-0.103, -0.10),
           (-0.108, -0.20), (-0.113, -0.10), (-0.118, -0.20), (-0.123, -0.10), (-0.128, -0.20),
           (-0.133, -0.10), (-0.138, -0.18), (-0.143, -0.08), (-0.148, -0.18), (-0.153, -0.08),
           (-0.158, -0.18), (-0.163, -0.10), (-0.168, -0.20), (-0.173, -0.12), (-0.178, -0.22),
           (-0.184, -0.16), (-0.190, -0.24), (-0.196, -0.20), (-0.204, -0.26), (-0.212, -0.32),
           (-0.220, -0.36), (-0.228, -0.42), (-0.237, -0.50), (-0.246, -0.62), (-0.255, -0.76),
           (-0.262, -0.90), (-0.270, -1.06), (-0.280, -1.28), (-0.290, -1.52), (-0.300, -1.76),
           (-0.309, -1.99), (-0.316, -2.22), (-0.323, -2.45), (-0.330, -2.68), (-0.336, -2.92),
           (-0.342, -3.15), (-0.347, -3.38)]
iAt_black_lo = [(-0.347, -3.30), (-0.342, -3.12), (-0.336, -2.92), (-0.330, -2.68), (-0.323, -2.45),
                (-0.316, -2.22), (-0.309, -1.99), (-0.300, -1.76), (-0.296, -1.66)]
iAt_black_hi = [(0.276, 2.06), (0.284, 2.25), (0.291, 2.45), (0.298, 2.62), (0.305, 2.80), (0.312, 2.95),
                (0.320, 3.15), (0.328, 3.35), (0.336, 3.52), (0.344, 3.70), (0.351, 3.82), (0.358, 3.95)]

# ---------------- line styles ----------------
STY = {
    'a_violet': dict(color='#6d3585', lw=1.3),
    'a_sky': dict(color='#8fd3f0', lw=0.9),
    'a_yellow': dict(color='#f1d27e', lw=0.9),
    'a_orange': dict(color='#e58a4e', lw=2.2),
    'a_tan': dict(color='#efc9b0', lw=1.6),
    'a_blue': dict(color='#5b93c4', lw=2.0),
    'a_lilac': dict(color='#d2b2d9', lw=0.9),
    'a_green': dict(color='#6cb33f', lw=1.4),
    'a_rose': dict(color='#d78b99', lw=0.9),
    't_violet': dict(color='#7E2F8E', lw=1.6),
    't_yellow': dict(color='#E2B531', lw=1.1),
    't_sky': dict(color='#5fc0e8', lw=0.7),
    't_blue': dict(color='#2f86c6', lw=1.6),
    't_orange': dict(color='#e0845a', lw=0.7),
    't_tan': dict(color='#f3dcc0', lw=1.0),
    't_lilac': dict(color='#a664ba', lw=1.3),
    't_green': dict(color='#7cc23e', lw=1.7),
    't_red': dict(color='#A2142F', lw=1.5),
    't_rose': dict(color='#c26a85', lw=0.7),
    'b_blue': dict(color='#2a2aff', lw=0.9),
    'b_red': dict(color='#ff2b2b', lw=0.9),
    'b_black': dict(color='#111111', lw=1.6),
}

# axes boxes in pixels: left, top, right, bottom ; label anchor points
PANELS = [
    dict(box=(470, 82, 712, 271), xlim=(0.05, 0.35), xs=0.05, ylim=(-0.6, 0.6), ys=0.2, kind='a',
         yl='N', ylp=(452, 180), xl='mm', xlp=(588, 292),
         segs=[(c14a_sky, 'a_sky'), (c14a_yellow, 'a_yellow'), (c14a_violet, 'a_violet'),
               (c14a_lilac, 'a_lilac'), (c14a_rose, 'a_rose'), (c14a_blue, 'a_blue'),
               (c14a_orange, 'a_orange'), (c14a_green, 'a_green')]),
    dict(box=(470, 307, 712, 497), xlim=(-0.4, 0.4), xs=0.1, ylim=(-3, 3), ys=1, kind='t',
         yl='Nm', ylp=(452, 403), xl='rad', xlp=(588, 517),
         segs=[(c14t_sky2, 't_sky'), (c14t_sky1, 't_sky'), (c14t_rose, 't_rose'), (c14t_orange, 't_orange'),
               (c14t_yellow, 't_yellow'), (c14t_violet, 't_violet'), (c14t_blue, 't_blue'),
               (c14t_lilac, 't_lilac'), (c14t_red, 't_red'), (c14t_green, 't_green')]),
    dict(box=(816, 82, 1058, 272), xlim=(-0.05, 0.25), xs=0.05, ylim=(-0.6, 0.6), ys=0.2, kind='a',
         yl='N', ylp=(797, 180), xl='mm', xlp=(933, 292),
         segs=[(i14a_sky, 'a_sky'), (i14a_yellow, 'a_yellow'), (i14a_violet, 'a_violet'),
               (i14a_lilac, 'a_lilac'), (i14a_rose, 'a_rose'), (i14a_tan, 'a_tan'), (i14a_blue, 'a_blue'),
               (i14a_orange, 'a_orange'), (i14a_green, 'a_green')]),
    dict(box=(816, 307, 1058, 497), xlim=(-0.4, 0.4), xs=0.1, ylim=(-2.5, 2.5), ys=0.5, kind='t',
         yl='Nm', ylp=(795, 403), xl='rad', xlp=(933, 517),
         segs=[(i14t_tan, 't_tan'), (i14t_sky, 't_sky'), (i14t_rose, 't_rose'), (i14t_orange, 't_orange'),
               (i14t_yellow, 't_yellow'), (i14t_violet, 't_violet'), (i14t_blue, 't_blue'),
               (i14t_lilac, 't_lilac'), (i14t_red, 't_red'), (i14t_green, 't_green')]),
    dict(box=(470, 565, 713, 756), xlim=(-0.8, -0.45), xs=0.05, ylim=(-0.6, 0.6), ys=0.2, kind='a',
         yl='N', ylp=(452, 664), xl='mm', xlp=(589, 777),
         segs=[(c28a_sky, 'a_sky'), (c28a_yellow, 'a_yellow'), (c28a_violet, 'a_violet'),
               (c28a_lilac, 'a_lilac'), (c28a_rose, 'a_rose'), (c28a_blue, 'a_blue'),
               (c28a_orange, 'a_orange'), (c28a_green, 'a_green')]),
    dict(box=(470, 792, 713, 981), xlim=(-0.4, 0.4), xs=0.1, ylim=(-2.5, 2.5), ys=0.5, kind='t',
         yl='Nm', ylp=(452, 888), xl='rad', xlp=(590, 1004),
         segs=[(c28t_sky2, 't_sky'), (c28t_rose, 't_rose'), (c28t_orange, 't_orange'),
               (c28t_yellow, 't_yellow'), (c28t_violet, 't_violet'), (c28t_blue, 't_blue'),
               (c28t_lilac, 't_lilac'), (c28t_red, 't_red'), (c28t_green, 't_green')]),
    dict(box=(816, 565, 1058, 756), xlim=(-0.95, -0.65), xs=0.05, ylim=(-0.5, 0.5), ys=0.1, kind='a',
         yl='N', ylp=(795, 664), xl='mm', xlp=(934, 777),
         segs=[(i28a_sky, 'a_sky'), (i28a_yellow, 'a_yellow'), (i28a_violet, 'a_violet'),
               (i28a_lilac, 'a_lilac'), (i28a_rose, 'a_rose'), (i28a_blue, 'a_blue'),
               (i28a_orange, 'a_orange'), (i28a_green, 'a_green')]),
    dict(box=(816, 791, 1058, 982), xlim=(-0.4, 0.4), xs=0.1, ylim=(-4, 4), ys=1, kind='t',
         yl='Nm', ylp=(793, 887), xl='rad', xlp=(935, 1004),
         segs=[(i28t_tan, 't_tan'), (i28t_sky2, 't_sky'), (i28t_sky1, 't_sky'), (i28t_rose, 't_rose'),
               (i28t_orange, 't_orange'), (i28t_yellow, 't_yellow'), (i28t_violet, 't_violet'),
               (i28t_blue, 't_blue'), (i28t_lilac, 't_lilac'), (i28t_red, 't_red'), (i28t_green, 't_green')]),
    dict(box=(472, 1058, 717, 1252), xlim=(0.8, 1.1), xs=0.05, ylim=(-0.6, 0.6), ys=0.2, kind='a',
         yl='N', ylp=(452, 1162), xl='mm', xlp=(589, 1276),
         segs=[(cAa_sky, 'a_sky'), (cAa_yellow, 'a_yellow'), (cAa_violet, 'a_violet'),
               (cAa_lilac, 'a_lilac'), (cAa_rose, 'a_rose'), (cAa_blue, 'a_blue'),
               (cAa_orange, 'a_orange'), (cAa_green, 'a_green')]),
    dict(box=(469, 1290, 714, 1484), xlim=(-0.4, 0.4), xs=0.1, ylim=(-4, 4), ys=1, kind='t',
         yl='Nm', ylp=(449, 1387), xl='rad', xlp=(586, 1502),
         segs=[(cAt_red, 'b_red'), (cAt_blue, 'b_blue'), (cAt_black_lo, 'b_black'), (cAt_black_hi, 'b_black')]),
    dict(box=(821, 1059, 1067, 1251), xlim=(0.45, 0.65), xs=0.05, ylim=(-0.5, 0.5), ys=0.1, kind='a',
         yl='N', ylp=(795, 1161), xl='mm', xlp=(934, 1276),
         segs=[(iAa_sky, 'a_sky'), (iAa_yellow, 'a_yellow'), (iAa_violet, 'a_violet'),
               (iAa_lilac, 'a_lilac'), (iAa_rose, 'a_rose'), (iAa_blue, 'a_blue'),
               (iAa_orange, 'a_orange'), (iAa_green, 'a_green')]),
    dict(box=(816, 1291, 1058, 1485), xlim=(-0.4, 0.4), xs=0.1, ylim=(-4, 5), ys=1, kind='t',
         yl='Nm', ylp=(793, 1390), xl='rad', xlp=(931, 1503),
         segs=[(iAt_red, 'b_red'), (iAt_blue, 'b_blue'), (iAt_black_lo, 'b_black'), (iAt_black_hi, 'b_black')]),
]

# faint frames of the pasted MATLAB figures
FRAMES = [(440, 62, 742, 298), (775, 62, 1089, 298), (440, 296, 742, 524), (775, 296, 1089, 524),
          (440, 546, 742, 782), (775, 546, 1089, 782), (440, 781, 742, 1009), (775, 781, 1089, 1009),
          (440, 1040, 745, 1276), (780, 1045, 1089, 1276), (440, 1276, 742, 1512), (775, 1276, 1089, 1512)]

ROWS = [
    dict(name='p14d56', box=(57, 269, 190, 322), ax_x=(265, 268), ax_y=(158, 195), tor=(271, 402)),
    dict(name='p28d56', box=(57, 765, 190, 818), ax_x=(281, 284), ax_y=(651, 688), tor=(287, 893)),
    dict(name='Adultd56', box=(45, 1256, 197, 1308), ax_x=(281, 284), ax_y=(1146, 1183), tor=(287, 1391)),
]


def fx(x):
    return x / W


def fy(y):
    return 1 - y / H


def tick_fmt(v, pos):
    s = ('%.4f' % v).rstrip('0').rstrip('.')
    if s in ('-0', ''):
        s = '0'
    return s


fig = plt.figure(figsize=(W / 100, H / 100), dpi=100)
fig.patch.set_facecolor('white')

for (l, t, r, b) in FRAMES:
    fig.add_artist(Rectangle((fx(l), fy(b)), fx(r - l), (b - t) / H, transform=fig.transFigure,
                             fill=False, edgecolor='#e3e3e3', lw=0.7))

for p in PANELS:
    l, t, r, b = p['box']
    ax = fig.add_axes([fx(l), fy(b), (r - l) / W, (b - t) / H])
    for pts, key in p['segs']:
        xs, ys = zip(*pts)
        ax.plot(xs, ys, solid_joinstyle='round', solid_capstyle='round', **STY[key])
    ax.set_xlim(*p['xlim'])
    ax.set_ylim(*p['ylim'])
    ax.xaxis.set_major_locator(MultipleLocator(p['xs']))
    ax.yaxis.set_major_locator(MultipleLocator(p['ys']))
    ax.xaxis.set_major_formatter(FuncFormatter(tick_fmt))
    ax.yaxis.set_major_formatter(FuncFormatter(tick_fmt))
    ax.grid(True, which='major', color='#dcdcdc', lw=0.5)
    if p['kind'] == 'a':
        ax.xaxis.set_minor_locator(AutoMinorLocator(5))
        ax.yaxis.set_minor_locator(AutoMinorLocator(4))
        ax.grid(True, which='minor', color='#ececec', lw=0.4, ls=':')
    else:
        ax.text(0.01, 1.004, r'$\times10^{-3}$', transform=ax.transAxes, fontsize=4.3,
                color='#555555', va='bottom', ha='left')
    ax.set_axisbelow(True)
    ax.tick_params(which='both', direction='in', top=True, right=True, color='#9a9a9a',
                   width=0.5, labelsize=5.2, labelcolor='#4a4a4a', pad=2)
    ax.tick_params(which='major', length=2.5)
    ax.tick_params(which='minor', length=1.2)
    for sp in ax.spines.values():
        sp.set_color('#b5b5b5')
        sp.set_linewidth(0.6)
    fig.text(fx(p['ylp'][0]), fy(p['ylp'][1]), p['yl'], rotation=90, ha='center', va='center',
             fontsize=14, color='#111111')
    fig.text(fx(p['xlp'][0]), fy(p['xlp'][1]), p['xl'], ha='center', va='center',
             fontsize=14, color='#111111')

# column headers
fig.text(fx(590), fy(27), 'Control', ha='center', va='center', fontsize=28)
fig.text(fx(931), fy(27), 'Injury', ha='center', va='center', fontsize=28)

# row labels
for row in ROWS:
    fig.text(fx(row['ax_x'][0]), fy(row['ax_y'][0]), 'Axial', ha='center', va='center', fontsize=21.5)
    fig.text(fx(row['ax_x'][1]), fy(row['ax_y'][1]), 'Compression/Tension', ha='center', va='center',
             fontsize=21.5)
    fig.text(fx(row['tor'][0]), fy(row['tor'][1]), 'Torsional', ha='center', va='center', fontsize=21.5)
    l, t, r, b = row['box']
    fig.add_artist(Rectangle((fx(l), fy(b)), (r - l) / W, (b - t) / H, transform=fig.transFigure,
                             fill=False, edgecolor='black', lw=1.1))
    fig.text(fx((l + r) / 2), fy((t + b) / 2 + 1), row['name'], ha='center', va='center', fontsize=21.5)

# table rules
LW = 2.3
rules = [((5, 1089), (58, 58)), ((8, 8), (58, 1517)), ((437, 437), (58, 1517)),
         ((8, 1089), (538, 538)), ((8, 1089), (1023, 1023))]
for xs, ys in rules:
    fig.add_artist(Line2D([fx(v) for v in xs], [fy(v) for v in ys], transform=fig.transFigure,
                          color='black', lw=LW, solid_capstyle='butt'))

fig.savefig('out.png', dpi=100)
